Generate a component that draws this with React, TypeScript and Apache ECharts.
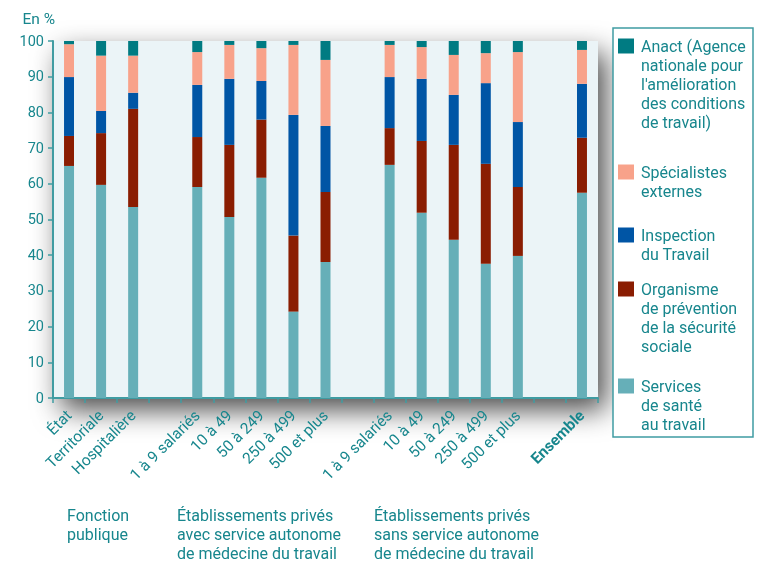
import React, { useEffect, useRef } from "react";
import * as echarts from "echarts";

const categories = [
  "État", "Territoriale", "Hospitalière", "",
  "1 à 9 salariés", "10 à 49", "50 à 249", "250 à 499", "500 et plus", "",
  "1 à 9 salariés", "10 à 49", "50 à 249", "250 à 499", "500 et plus", "",
  "Ensemble",
];

const services = [65.0, 59.7, 53.5, null, 59.1, 50.7, 61.7, 24.2, 38.1, null, 65.3, 51.9, 44.3, 37.6, 39.8, null, 57.5];
const organisme = [8.4, 14.5, 27.5, null, 14.0, 20.2, 16.3, 21.3, 19.6, null, 10.3, 20.1, 26.6, 28.0, 19.3, null, 15.4];
const inspection = [16.5, 6.2, 4.5, null, 14.6, 18.5, 10.8, 33.8, 18.5, null, 14.3, 17.4, 14.0, 22.6, 18.2, null, 15.1];
const specialistes = [9.2, 15.5, 10.4, null, 9.2, 9.5, 9.2, 19.6, 18.5, null, 9.0, 8.9, 11.2, 8.4, 19.6, null, 9.5];
const anact = [0.9, 4.1, 4.1, null, 3.1, 1.1, 2.0, 1.1, 5.3, null, 1.1, 1.7, 3.9, 3.4, 3.1, null, 2.5];

const seriesNames = [
  "Services\nde santé\nau travail",
  "Organisme\nde prévention\nde la sécurité\nsociale",
  "Inspection\ndu Travail",
  "Spécialistes\nexternes",
  "Anact (Agence\nnationale pour\nl'amélioration\ndes conditions\nde travail)",
];
const seriesData = [services, organisme, inspection, specialistes, anact];
const seriesColors = ["#66afb8", "#8a1d02", "#0055a5", "#f8a28a", "#007b82"];

const groupLabels = [
  "Fonction\npublique",
  "Établissements privés\navec service autonome\nde médecine du travail",
  "Établissements privés\nsans service autonome\nde médecine du travail",
];

const yTicks = [0, 10, 20, 30, 40, 50, 60, 70, 80, 90, 100];

const TEAL = "#17868d";
const AXIS = "#3f9ca2";
const FONT = "Roboto, 'Open Sans', sans-serif";

export default function App() {
  const ref = useRef<HTMLDivElement>(null);

  useEffect(() => {
    document.body.style.margin = "0";
    const chart = echarts.init(ref.current!, null, { renderer: "svg" });

    const legendOrder = [4, 3, 2, 1, 0];
    const legendFirstLineY = [46, 172, 235, 289, 386];
    const legendElems: any[] = [
      {
        type: "rect",
        shape: { x: 613, y: 28, width: 140, height: 409 },
        style: { fill: "#ffffff", stroke: AXIS, lineWidth: 1.5 },
        z: 10,
      },
    ];
    legendOrder.forEach((si, k) => {
      const cy = legendFirstLineY[k];
      legendElems.push({
        type: "rect",
        shape: { x: 618, y: cy - 7.5, width: 16, height: 15 },
        style: { fill: seriesColors[si] },
        z: 11,
      });
      legendElems.push({
        type: "text",
        x: 641,
        y: cy - 9.5,
        style: {
          text: seriesNames[si],
          fill: TEAL,
          font: `16px ${FONT}`,
          lineHeight: 19,
          verticalAlign: "top",
        },
        z: 11,
      });
    });

    const groupX = [67, 177, 374];
    const groupElems = groupLabels.map((t, i) => ({
      type: "text",
      x: groupX[i],
      y: 505.5,
      style: {
        text: t,
        fill: TEAL,
        font: `16px ${FONT}`,
        lineHeight: 19,
        verticalAlign: "top",
      },
    }));

    chart.setOption({
      animation: false,
      textStyle: { fontFamily: FONT },
      grid: {
        left: 53,
        right: 165,
        top: 41,
        bottom: 165,
        show: true,
        backgroundColor: "#ebf4f7",
        borderWidth: 0,
        shadowBlur: 28,
        shadowColor: "rgba(0,0,0,0.7)",
        shadowOffsetX: 8,
        shadowOffsetY: 12,
      },
      xAxis: {
        type: "category",
        data: categories.map((c) =>
          c === "Ensemble" ? { value: c, textStyle: { fontWeight: "bold" } } : c
        ),
        axisLine: { show: true, lineStyle: { color: AXIS, width: 2 } },
        axisTick: { show: true, interval: 0, length: 5, lineStyle: { color: AXIS, width: 1.5 } },
        axisLabel: {
          interval: 0,
          rotate: 45,
          margin: 15,
          color: TEAL,
          fontSize: 15.5,
          fontFamily: FONT,
        },
        splitLine: { show: false },
      },
      yAxis: {
        type: "value",
        min: yTicks[0],
        max: yTicks[yTicks.length - 1],
        interval: 10,
        name: "En %",
        nameLocation: "end",
        nameGap: 14,
        nameTextStyle: { color: TEAL, fontSize: 15.5, fontFamily: FONT, align: "right", padding: [0, -2, 0, 0] },
        axisLine: { show: true, lineStyle: { color: AXIS, width: 2 } },
        axisTick: { show: true, length: 5, lineStyle: { color: AXIS, width: 1.5 } },
        axisLabel: { color: TEAL, fontSize: 14.5, fontFamily: FONT, margin: 9 },
        splitLine: { show: false },
      },
      series: seriesData.map((d, i) => ({
        type: "bar",
        name: seriesNames[i],
        stack: "total",
        data: d,
        barWidth: 10,
        itemStyle: { color: seriesColors[i] },
        z: 3,
      })),
      graphic: [...legendElems, ...groupElems],
    });

    return () => chart.dispose();
  }, []);

  return (
    <div
      ref={ref}
      style={{ position: "fixed", left: 0, top: 0, width: 763, height: 563 }}
    />
  );
}
